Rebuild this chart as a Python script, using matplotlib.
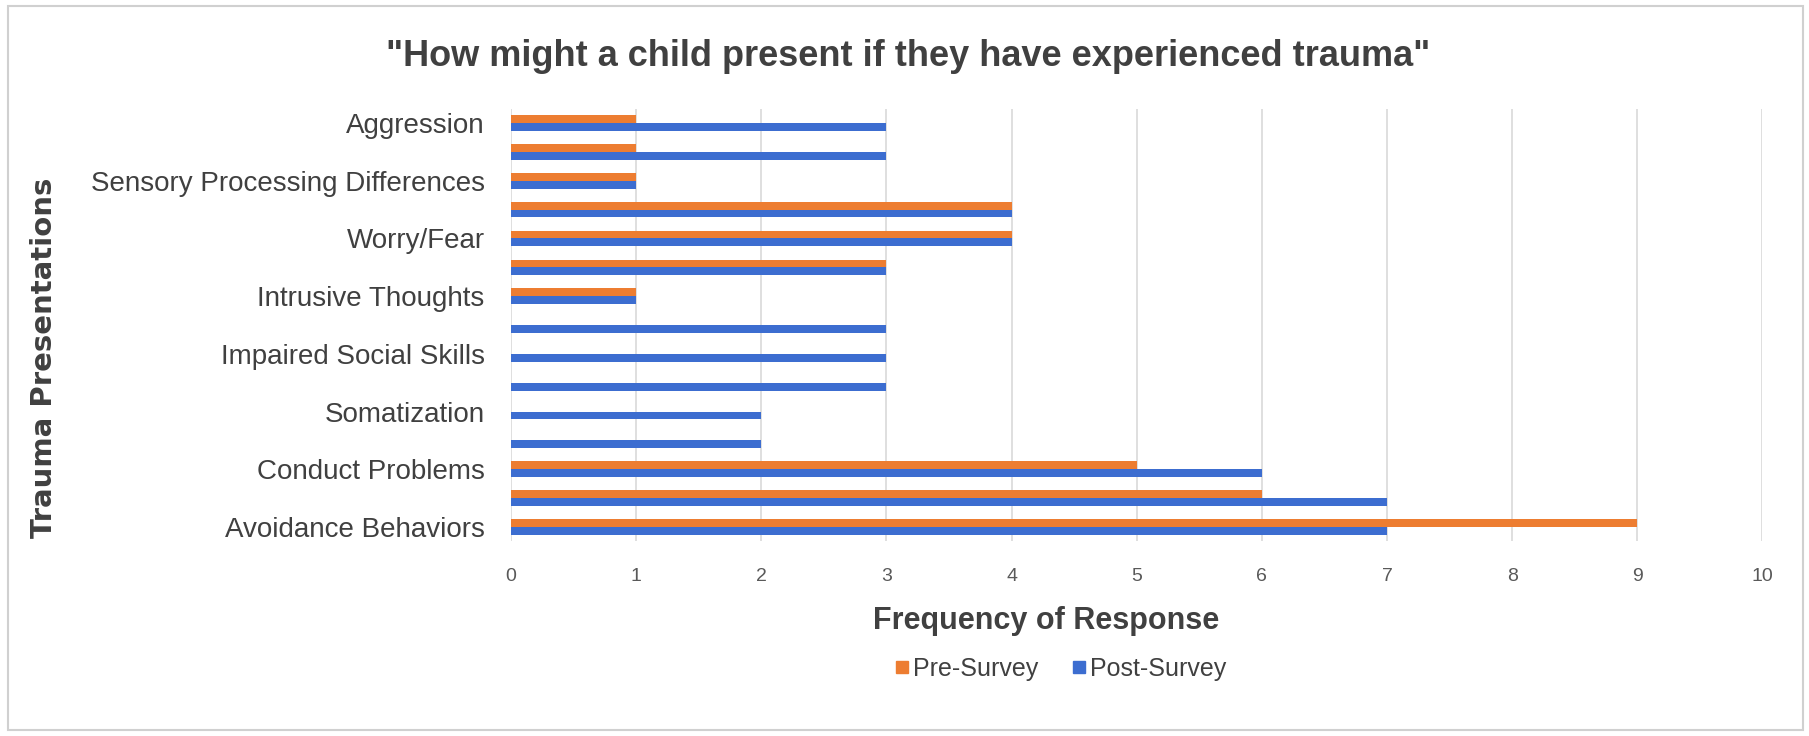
import matplotlib
matplotlib.use("Agg")
import matplotlib.pyplot as plt
from matplotlib import font_manager
from matplotlib.lines import Line2D
from matplotlib.patches import Rectangle
import numpy as np

# categories listed bottom to top; only every other one gets a label
labels = ["Avoidance Behaviors", "", "Conduct Problems", "", "Somatization", "",
          "Impaired Social Skills", "", "Intrusive Thoughts", "", "Worry/Fear", "",
          "Sensory Processing Differences", "", "Aggression"]
pre_survey = [9, 6, 5, 0, 0, 0, 0, 0, 1, 3, 4, 4, 1, 1, 1]
post_survey = [7, 7, 6, 2, 2, 3, 3, 3, 1, 3, 4, 4, 1, 3, 3]
x_ticks = list(range(0, 11))

ORANGE = "#ED7D31"
BLUE = "#3C6DD0"

names = {f.name for f in font_manager.fontManager.ttflist}
narrow = "Liberation Sans Narrow" if "Liberation Sans Narrow" in names else "Liberation Sans"
sans = "Liberation Sans"

fig = plt.figure(figsize=(18.09, 7.36), dpi=100)
ax = fig.add_axes([0.2825, 0.2644, 0.6917, 0.588])

y = np.arange(len(labels))
h = 0.27
ax.barh(y + h / 2, pre_survey, height=h, color=ORANGE, label="Pre-Survey", zorder=3)
ax.barh(y - h / 2, post_survey, height=h, color=BLUE, label="Post-Survey", zorder=3)

ax.set_xlim(0, 10)
ax.set_ylim(-0.5, len(labels) - 0.5)
ax.set_xticks(x_ticks)
ax.set_xticklabels([str(t) for t in x_ticks], fontfamily=narrow, fontsize=14, color="#595959")
ax.set_yticks(y)
ax.set_yticklabels(labels, fontfamily=sans, fontsize=20, color="#404040")
ax.tick_params(axis="x", length=0, pad=19)
ax.tick_params(axis="y", length=0, pad=19)
ax.grid(axis="x", color="#D9D9D9", linewidth=1.2, zorder=0)
for s in ax.spines.values():
    s.set_visible(False)

fig.text(0.502, 1 - 57 / 736, '"How might a child present if they have experienced trauma"',
         ha="center", va="center", fontfamily=sans, fontweight="bold", fontsize=26, color="#404040")
fig.text(1046 / 1809, 1 - 621 / 736, "Frequency of Response", ha="center", va="center",
         fontfamily=sans, fontweight="bold", fontsize=22, color="#404040")
fig.text(44 / 1809, 1 - 358 / 736, "Trauma Presentations", ha="center", va="center",
         rotation=90, fontfamily="DejaVu Sans", fontweight="bold", fontsize=21, color="#404040")

handles = [Line2D([], [], marker="s", linestyle="none", markersize=9, color=ORANGE),
           Line2D([], [], marker="s", linestyle="none", markersize=9, color=BLUE)]
fig.legend(handles, ["Pre-Survey", "Post-Survey"], loc="center",
           bbox_to_anchor=(1059 / 1809, 1 - 669 / 736), ncol=2, frameon=False,
           handletextpad=0.05, columnspacing=1.2, handlelength=0.8,
           prop={"family": sans, "size": 18}, labelcolor="#404040")

# light border round the whole chart
fig.patches.append(Rectangle((8 / 1809, 6 / 736), 1795 / 1809, 724 / 736,
                             transform=fig.transFigure, fill=False,
                             edgecolor="#D0D0D0", linewidth=1.5))

fig.savefig("out.png", dpi=100)
